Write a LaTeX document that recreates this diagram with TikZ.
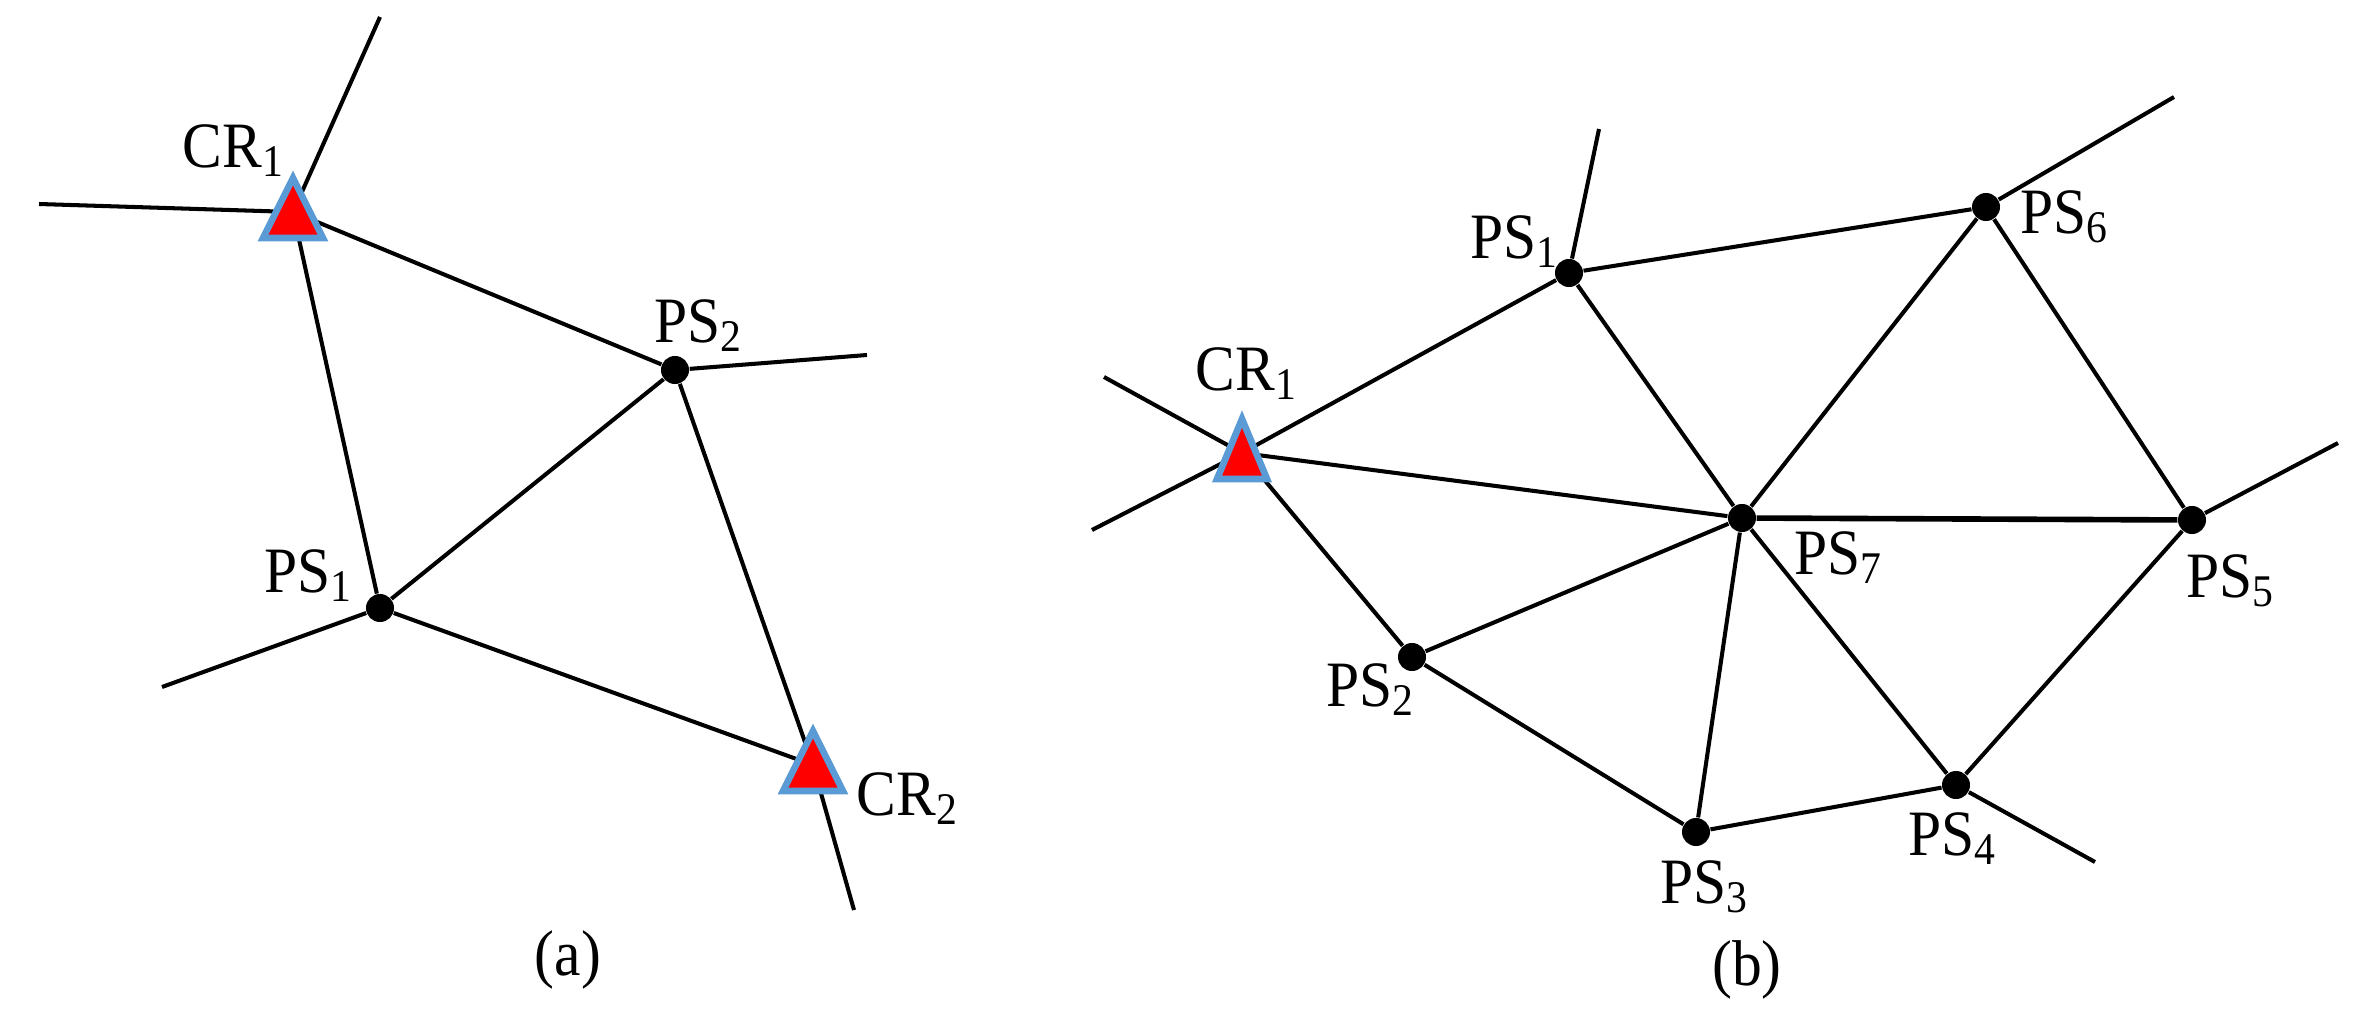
\documentclass[tikz,border=0pt]{standalone}
\usepackage{fontspec}
\setmainfont{Liberation Serif}[FakeStretch=0.92]
\usetikzlibrary{calc}
\definecolor{crred}{RGB}{255,0,0}
\definecolor{crblue}{RGB}{91,155,213}
\newcommand\crtriangle[2]{\filldraw[tri] ($(#1)+(0,-34)$) -- ($(#1)+(#2,26)$) -- ($(#1)+(-#2,26)$) -- cycle;}
\begin{document}
\begin{tikzpicture}[x=0.01cm,y=-0.01cm,
  edge/.style={line width=1.15pt},
  thickedge/.style={line width=1.6pt},
  ps/.style={circle,fill=black,inner sep=0,minimum size=0.28cm},
  cr/.style={coordinate},
  lab/.style={anchor=base west,inner sep=0,font=\fontsize{18.4}{22}\selectfont},
  captext/.style={anchor=base,inner sep=0,font=\fontsize{18.4}{22}\selectfont},
  tri/.style={fill=crred,draw=crblue,line width=1.9pt,line join=miter}]
\useasboundingbox (0,0) rectangle (2362,1012);

% ---------- panel (a) ----------
\node[cr] (aCR1) at (293,212) {};
\node[cr] (aCR2) at (813,765) {};
\node[ps] (aPS1) at (380,608) {};
\node[ps] (aPS2) at (675,370) {};
\coordinate (aE1) at (380,17);
\coordinate (aE2) at (39,204);
\coordinate (aE3) at (867,355);
\coordinate (aE4) at (162,687);
\coordinate (aE5) at (854,910);

\draw[edge] (aCR1) -- (aE1);
\draw[edge] (aCR1) -- (aE2);
\draw[edge] (aPS2) -- (aE3);
\draw[edge] (aPS1) -- (aE4);
\draw[edge] (aCR2) -- (aE5);
\draw[edge] (aCR1) -- (aPS2);
\draw[edge] (aCR1) -- (aPS1);
\draw[edge] (aPS1) -- (aPS2);
\draw[edge] (aPS1) -- (aCR2);
\draw[edge] (aPS2) -- (aCR2);
\crtriangle{aCR1}{30}
\crtriangle{aCR2}{30}

\node[lab] (laCR1) at (182,167) {CR\textsubscript{1}};
\node[lab] (laPS2) at (654,342) {PS\textsubscript{2}};
\node[lab] (laPS1) at (264,592) {PS\textsubscript{1}};
\node[lab] (laCR2) at (856,815) {CR\textsubscript{2}};
\node[captext] (capa) at (568,975) {(a)};

% ---------- panel (b) ----------
\node[cr] (bCR1) at (1242,453) {};
\node[ps] (bPS1) at (1569,273) {};
\node[ps] (bPS2) at (1412,657) {};
\node[ps] (bPS3) at (1696,832) {};
\node[ps] (bPS4) at (1956,785) {};
\node[ps] (bPS5) at (2192,520) {};
\node[ps] (bPS6) at (1986,207) {};
\node[ps] (bPS7) at (1742,518) {};
\coordinate (bE1) at (1104,377);
\coordinate (bE2) at (1092,530);
\coordinate (bE3) at (1599,129);
\coordinate (bE4) at (2174,97);
\coordinate (bE5) at (2338,443);
\coordinate (bE6) at (2095,862);

\draw[edge] (bCR1) -- (bE1);
\draw[edge] (bCR1) -- (bE2);
\draw[edge] (bPS1) -- (bE3);
\draw[edge] (bPS6) -- (bE4);
\draw[edge] (bPS5) -- (bE5);
\draw[edge] (bPS4) -- (bE6);
\draw[edge] (bCR1) -- (bPS1);
\draw[edge] (bCR1) -- (bPS7);
\draw[edge] (bCR1) -- (bPS2);
\draw[edge] (bPS1) -- (bPS6);
\draw[edge] (bPS1) -- (bPS7);
\draw[edge] (bPS6) -- (bPS7);
\draw[edge] (bPS6) -- (bPS5);
\draw[thickedge] (bPS7) -- (bPS5);
\draw[edge] (bPS7) -- (bPS2);
\draw[edge] (bPS7) -- (bPS3);
\draw[edge] (bPS7) -- (bPS4);
\draw[edge] (bPS2) -- (bPS3);
\draw[edge] (bPS3) -- (bPS4);
\draw[edge] (bPS4) -- (bPS5);
\crtriangle{bCR1}{25}

\node[lab] (lbCR1) at (1195,390) {CR\textsubscript{1}};
\node[lab] (lbPS1) at (1470,258) {PS\textsubscript{1}};
\node[lab] (lbPS6) at (2020,233) {PS\textsubscript{6}};
\node[lab] (lbPS7) at (1794,574) {PS\textsubscript{7}};
\node[lab] (lbPS5) at (2186,597) {PS\textsubscript{5}};
\node[lab] (lbPS2) at (1326,706) {PS\textsubscript{2}};
\node[lab] (lbPS3) at (1660,903) {PS\textsubscript{3}};
\node[lab] (lbPS4) at (1908,855) {PS\textsubscript{4}};
\node[captext] (capb) at (1747,985) {(b)};
\end{tikzpicture}
\end{document}
